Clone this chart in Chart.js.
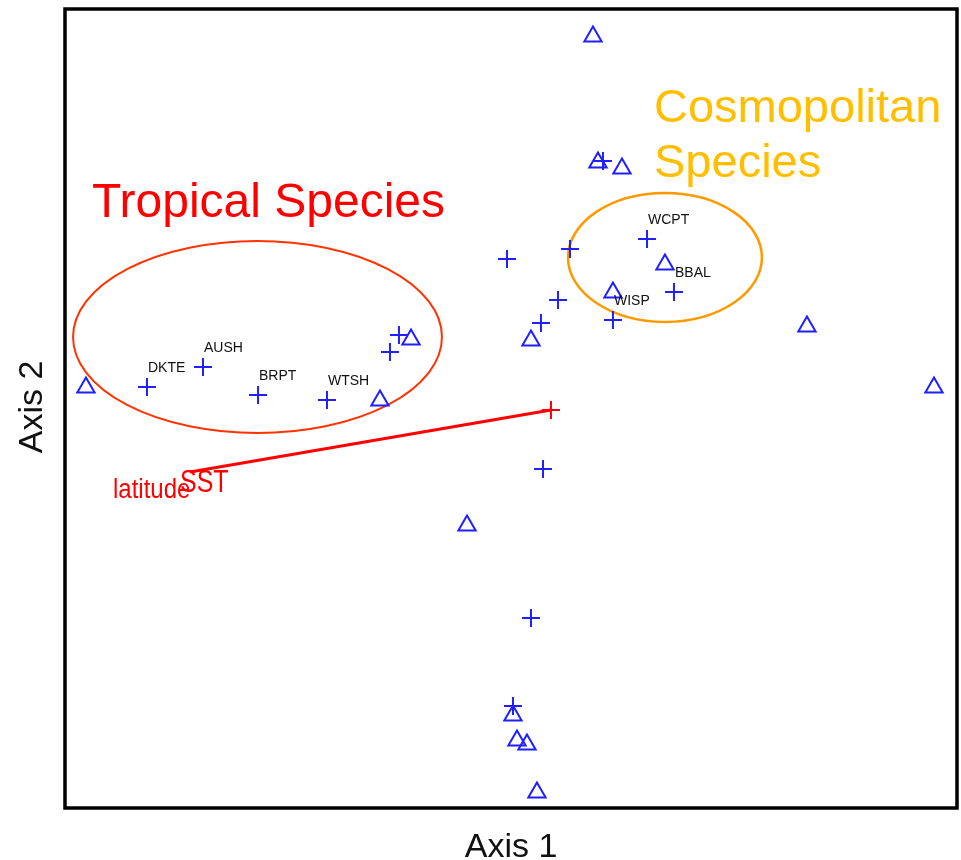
<!DOCTYPE html>
<html>
<head>
<meta charset="utf-8">
<script src="https://cdn.jsdelivr.net/npm/chart.js@4/dist/chart.umd.min.js"></script>
<style>
  body { margin: 0; background: #fff; }
  #wrap { width: 961px; height: 860px; }
</style>
</head>
<body>
<div id="wrap"><canvas id="myChart"></canvas></div>
<script>
// species scores (plus markers)
const speciesX = [9.19, 15.47, 21.64, 29.37, 36.43, 37.44, 49.55, 56.61, 65.25, 68.27, 55.27, 53.36, 61.43, 60.31, 53.59, 52.24, 50.22];
const speciesY = [52.69, 55.19, 51.69, 51.06, 57.07, 59.20, 68.71, 69.96, 71.21, 64.58, 63.58, 60.70, 61.08, 80.98, 42.43, 23.78, 12.77];
const speciesNames = ['DKTE', 'AUSH', 'BRPT', 'WTSH', '', '', '', '', 'WCPT', 'BBAL', '', '', 'WISP', '', '', '', ''];

// site scores (triangles)
const siteX = [59.19, 59.75, 62.44, 67.26, 61.43, 83.18, 97.42, 52.24, 38.79, 35.31, 2.35, 45.07, 50.22, 50.67, 51.79, 52.91];
const siteY = [96.56, 80.79, 80.04, 68.02, 64.52, 60.26, 52.63, 58.51, 58.64, 51.00, 52.63, 35.36, 11.58, 8.45, 7.95, 1.94];

// environmental vector
const vectorX = [14.01, 54.48];
const vectorY = [42.05, 49.81];

// group ellipses: centre and radii in axis units
const groupNames = ['Tropical Species', 'Cosmopolitan'];
const groupCx = [21.58, 67.26];
const groupCy = [58.95, 68.90];
const groupRx = [20.68, 10.87];
const groupRy = [12.02, 8.07];

const toPoints = (xs, ys) => xs.map((x, i) => ({ x: x, y: ys[i] }));

const overlay = {
  id: 'overlay',
  beforeDatasetsDraw(chart) {
    const ctx = chart.ctx;
    const sx = chart.scales.x, sy = chart.scales.y;
    const colors = ['#ff3300', '#ff9900'];
    const widths = [2, 2.5];
    ctx.save();
    groupNames.forEach((g, i) => {
      const cx = sx.getPixelForValue(groupCx[i]);
      const cy = sy.getPixelForValue(groupCy[i]);
      const rx = Math.abs(sx.getPixelForValue(groupCx[i] + groupRx[i]) - cx);
      const ry = Math.abs(sy.getPixelForValue(groupCy[i] + groupRy[i]) - cy);
      ctx.beginPath();
      ctx.ellipse(cx, cy, rx, ry, 0, 0, Math.PI * 2);
      ctx.strokeStyle = colors[i];
      ctx.lineWidth = widths[i];
      ctx.stroke();
    });
    ctx.restore();
  },
  afterDatasetsDraw(chart) {
    const ctx = chart.ctx;
    const sx = chart.scales.x, sy = chart.scales.y;
    const a = chart.chartArea;
    ctx.save();

    // species codes
    ctx.fillStyle = '#111';
    ctx.font = '14px "Liberation Sans", Arial, sans-serif';
    ctx.textAlign = 'left';
    ctx.textBaseline = 'alphabetic';
    speciesNames.forEach((n, i) => {
      if (!n) return;
      ctx.fillText(n, sx.getPixelForValue(speciesX[i]) + 1, sy.getPixelForValue(speciesY[i]) - 15);
    });

    // vector labels
    const vx = sx.getPixelForValue(vectorX[0]);
    const vy = sy.getPixelForValue(vectorY[0]);
    ctx.fillStyle = '#ff0000';
    ctx.save();
    ctx.translate(vx - 77, vy + 26);
    ctx.scale(1, 1.15);
    ctx.font = '24px "Liberation Sans", Arial, sans-serif';
    ctx.fillText('latitude', 0, 0);
    ctx.restore();
    ctx.save();
    ctx.translate(vx - 10, vy + 20);
    ctx.scale(1, 1.22);
    ctx.font = '25px "Liberation Sans", Arial, sans-serif';
    ctx.fillText('SST', 0, 0);
    ctx.restore();

    // group titles
    ctx.font = '48px "Liberation Sans", Arial, sans-serif';
    ctx.fillStyle = '#ff0000';
    ctx.fillText(groupNames[0], 92, 217);
    ctx.font = '47px "Liberation Sans", Arial, sans-serif';
    ctx.fillStyle = '#ffbf00';
    ctx.fillText('Cosmopolitan', 654, 122);
    ctx.fillText('Species', 654, 177);

    // frame
    ctx.strokeStyle = '#000';
    ctx.lineWidth = 3.5;
    ctx.strokeRect(a.left, a.top, a.right - a.left, a.bottom - a.top);

    // axis titles
    ctx.fillStyle = '#111';
    ctx.font = '34px "Liberation Sans", Arial, sans-serif';
    ctx.textAlign = 'center';
    ctx.fillText('Axis 1', 511, 857);
    ctx.save();
    ctx.translate(42, 407);
    ctx.rotate(-Math.PI / 2);
    ctx.fillText('Axis 2', 0, 0);
    ctx.restore();

    ctx.restore();
  }
};

new Chart(document.getElementById('myChart'), {
  type: 'scatter',
  data: {
    datasets: [
      {
        label: 'sites',
        data: toPoints(siteX, siteY),
        pointStyle: 'triangle',
        pointRadius: 10,
        pointBorderColor: '#1f1fff',
        pointBackgroundColor: 'rgba(0,0,0,0)',
        pointBorderWidth: 2,
        clip: false
      },
      {
        label: 'species',
        data: toPoints(speciesX, speciesY),
        pointStyle: 'cross',
        pointRadius: 9,
        pointBorderColor: '#1f1fff',
        pointBorderWidth: 2,
        clip: false
      },
      {
        label: 'vector',
        data: toPoints(vectorX, vectorY),
        showLine: true,
        borderColor: '#ff0000',
        borderWidth: 3,
        pointStyle: 'cross',
        pointRadius: [0, 9],
        pointBorderColor: '#ff0000',
        pointBorderWidth: 2,
        clip: false
      }
    ]
  },
  options: {
    responsive: true,
    maintainAspectRatio: false,
    animation: false,
    layout: { autoPadding: false, padding: { left: 65, top: 9, right: 4, bottom: 52 } },
    scales: {
      x: { type: 'linear', min: 0, max: 100, display: false },
      y: { type: 'linear', min: 0, max: 100, display: false }
    },
    plugins: {
      legend: { display: false },
      tooltip: { enabled: false }
    }
  },
  plugins: [overlay]
});
</script>
</body>
</html>
